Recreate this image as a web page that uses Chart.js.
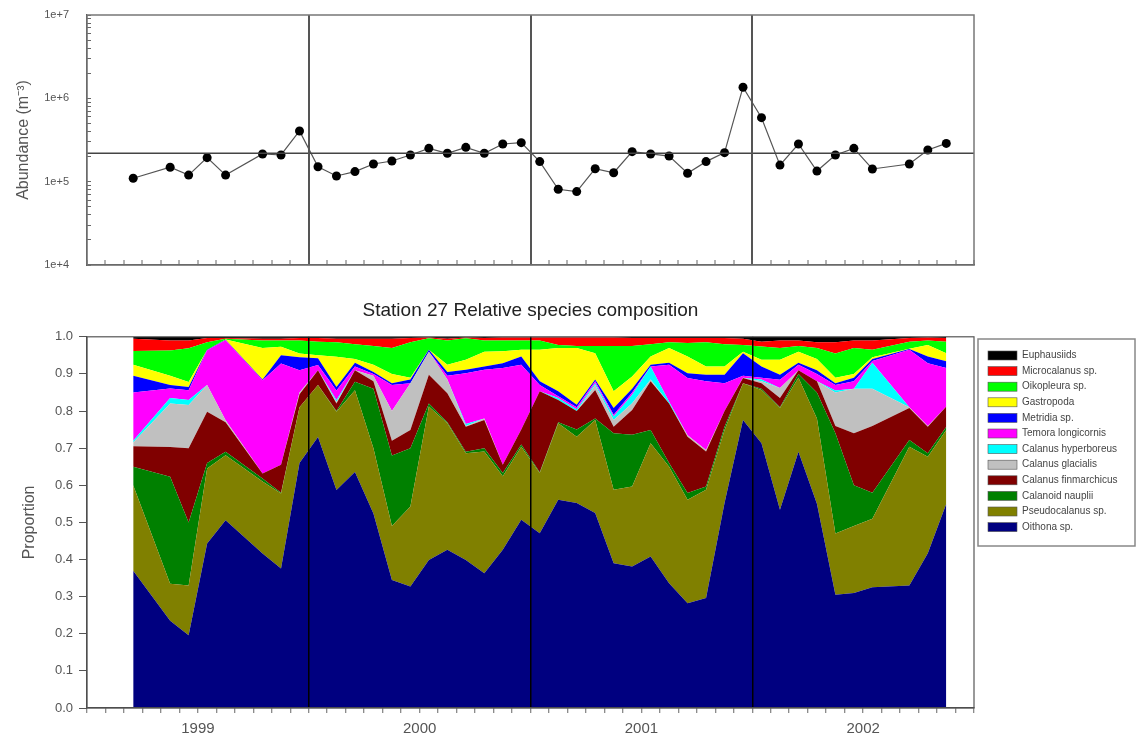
<!DOCTYPE html>
<html>
<head>
<meta charset="utf-8">
<title>Station 27</title>
<script src="https://cdn.jsdelivr.net/npm/chart.js@4.4.1/dist/chart.umd.min.js"></script>
<style>
  html, body { margin: 0; padding: 0; background: #fff; }
  #wrap { position: relative; width: 1137px; height: 742px; overflow: hidden; }
  #abundanceChart { position: absolute; left: 0; top: 0; }
  #compositionChart { position: absolute; left: 0; top: 280px; }
</style>
</head>
<body>
<div id="wrap">
  <canvas id="abundanceChart" width="1137" height="280"></canvas>
  <canvas id="compositionChart" width="1137" height="462"></canvas>
</div>
<script>
// Sampling months (one station visit per month, mid-month)
const sampleDates = [
  '1999-03', '1999-05', '1999-06', '1999-07', '1999-08', '1999-10', '1999-11', '1999-12',
  '2000-01', '2000-02', '2000-03', '2000-04', '2000-05', '2000-06', '2000-07', '2000-08', '2000-09', '2000-10', '2000-11', '2000-12',
  '2001-01', '2001-02', '2001-03', '2001-04', '2001-05', '2001-06', '2001-07', '2001-08', '2001-09', '2001-10', '2001-11', '2001-12',
  '2002-01', '2002-02', '2002-03', '2002-04', '2002-05', '2002-06', '2002-07', '2002-09', '2002-10', '2002-11'
];
const yearLabels = ['1999', '2000', '2001', '2002'];

// Total abundance (m-3)
const abundance = [
  1.10e5, 1.49e5, 1.20e5, 1.94e5, 1.20e5, 2.15e5, 2.09e5, 4.06e5,
  1.51e5, 1.17e5, 1.32e5, 1.63e5, 1.77e5, 2.09e5, 2.51e5, 2.19e5, 2.58e5, 2.19e5, 2.83e5, 2.94e5,
  1.74e5, 8.1e4, 7.6e4, 1.43e5, 1.28e5, 2.29e5, 2.15e5, 2.03e5, 1.26e5, 1.74e5, 2.23e5, 1.36e6,
  5.86e5, 1.58e5, 2.83e5, 1.34e5, 2.09e5, 2.51e5, 1.42e5, 1.63e5, 2.40e5, 2.88e5
];
const meanAbundance = 2.19e5;

// Relative composition: cumulative upper edge of each layer (bottom layer first)
const oithona = [.37, .235, .196, .443, .506, .416, .376, .66,
  .73, .587, .636, .524, .345, .327, .399, .426, .399, .363, .426, .507,
  .471, .561, .552, .525, .39, .381, .408, .336, .282, .296, .552, .776,
  .713, .534, .69, .55, .305, .31, .325, .33, .417, .55];
const pseudocalanus = [.60, .335, .33, .645, .681, .61, .578, .81,
  .87, .798, .856, .70, .49, .543, .812, .767, .686, .691, .624, .704,
  .633, .767, .731, .776, .588, .597, .713, .65, .561, .588, .749, .875,
  .857, .808, .89, .78, .47, .49, .51, .704, .677, .749];
const calanoidNauplii = [.65, .623, .50, .66, .69, .618, .58, .81,
  .87, .80, .879, .86, .68, .70, .82, .77, .69, .70, .633, .71,
  .635, .77, .75, .78, .74, .736, .749, .66, .579, .597, .758, .875,
  .86, .81, .90, .85, .74, .60, .58, .722, .686, .758];
const calanusFinmarchicus = [.705, .703, .70, .798, .77, .632, .655, .845,
  .91, .82, .91, .88, .72, .749, .898, .848, .758, .776, .655, .75,
  .853, .83, .80, .857, .758, .803, .88, .82, .731, .691, .80, .889,
  .875, .835, .91, .88, .76, .74, .76, .808, .758, .812];
const calanusGlacialis = [.715, .82, .816, .87, .775, .632, .655, .85,
  .91, .825, .91, .895, .80, .875, .96, .885, .76, .78, .655, .75,
  .853, .83, .80, .87, .776, .821, .885, .82, .735, .695, .80, .89,
  .88, .862, .91, .88, .85, .86, .86, .81, .76, .812];
const calanusHyperboreus = [.72, .835, .83, .87, .775, .632, .655, .85,
  .91, .83, .91, .895, .80, .875, .96, .885, .765, .78, .655, .75,
  .853, .835, .805, .875, .785, .844, .92, .825, .735, .695, .80, .89,
  .885, .862, .91, .88, .855, .86, .93, .81, .76, .812];
const temora = [.85, .861, .856, .964, .991, .883, .928, .91,
  .924, .855, .92, .90, .87, .875, .96, .895, .902, .911, .916, .925,
  .87, .84, .81, .88, .79, .85, .92, .925, .889, .88, .875, .895,
  .89, .884, .925, .90, .87, .88, .935, .965, .929, .916];
const metridia = [.895, .87, .865, .965, .992, .885, .95, .945,
  .942, .865, .93, .905, .875, .885, .965, .905, .911, .92, .929, .947,
  .88, .853, .817, .885, .808, .86, .925, .93, .902, .898, .898, .956,
  .92, .898, .93, .91, .875, .89, .94, .967, .947, .934];
const gastropoda = [.925, .895, .878, .965, .993, .97, .973, .955,
  .95, .946, .94, .925, .90, .89, .965, .925, .938, .96, .961, .965,
  .965, .97, .97, .956, .853, .893, .947, .97, .947, .92, .92, .96,
  .938, .938, .96, .94, .89, .90, .945, .968, .978, .956];
const oikopleura = [.962, .963, .969, .985, .995, .99, .99, .99,
  .987, .985, .98, .975, .97, .985, .996, .99, .996, .99, .99, .99,
  .99, .978, .975, .975, .975, .975, .98, .985, .983, .985, .98, .978,
  .974, .97, .975, .97, .955, .97, .965, .987, .99, .987];
const microcalanus = [.995, .99, .99, .997, .997, .995, .995, .997,
  .997, .995, .995, .995, .995, .997, .998, .995, .998, .997, .998, .998,
  .998, .998, .998, .998, .998, .997, .997, .997, .997, .997, .997, .995,
  .987, .99, .99, .985, .985, .99, .99, .997, .998, .997];
const euphausiids = [1, 1, 1, 1, 1, 1, 1, 1,
  1, 1, 1, 1, 1, 1, 1, 1, 1, 1, 1, 1,
  1, 1, 1, 1, 1, 1, 1, 1, 1, 1, 1, 1,
  1, 1, 1, 1, 1, 1, 1, 1, 1, 1];

const layers = [
  { label: 'Oithona sp.', color: '#000080', data: oithona },
  { label: 'Pseudocalanus sp.', color: '#808000', data: pseudocalanus },
  { label: 'Calanoid nauplii', color: '#008000', data: calanoidNauplii },
  { label: 'Calanus finmarchicus', color: '#800000', data: calanusFinmarchicus },
  { label: 'Calanus glacialis', color: '#c0c0c0', data: calanusGlacialis },
  { label: 'Calanus hyperboreus', color: '#00ffff', data: calanusHyperboreus },
  { label: 'Temora longicornis', color: '#ff00ff', data: temora },
  { label: 'Metridia sp.', color: '#0000ff', data: metridia },
  { label: 'Gastropoda', color: '#ffff00', data: gastropoda },
  { label: 'Oikopleura sp.', color: '#00ff00', data: oikopleura },
  { label: 'Microcalanus sp.', color: '#ff0000', data: microcalanus },
  { label: 'Euphausiids', color: '#000000', data: euphausiids }
];

// months since Jan 1999, placed mid-month
const sampleX = sampleDates.map(s => {
  const [y, m] = s.split('-').map(Number);
  return (y - 1999) * 12 + (m - 1) + 0.5;
});
const monthTicks = Array.from({ length: 49 }, (_, i) => i);
const logTicks = [];
for (let e = 4; e < 7; e++) for (let k = 1; k < 10; k++) logTicks.push(k * 10 ** e);
logTicks.push(1e7);

const isYearLine = v => v % 12 === 0 && v > 0 && v < 48;

// keep the plot area exactly where the fixed layout padding puts it
const noOverflow = s => { s.paddingTop = 0; s.paddingBottom = 0; s.paddingLeft = 0; s.paddingRight = 0; };

Chart.defaults.font.family = "'Liberation Sans', Arial, sans-serif";
Chart.defaults.color = '#555';
Chart.defaults.animation = false;

const framePlugin = {
  id: 'frame',
  afterDraw(chart, args, opts) {
    const { ctx, chartArea: a } = chart;
    ctx.save();
    ctx.strokeStyle = opts.color;
    ctx.lineWidth = opts.width;
    ctx.strokeRect(a.left, a.top, a.right - a.left, a.bottom - a.top);
    ctx.restore();
  }
};

const boxLegend = {
  id: 'boxLegend',
  afterDraw(chart, args, opts) {
    if (!opts.display) return;
    const ctx = chart.ctx;
    const items = chart.data.datasets.slice().reverse();
    ctx.save();
    ctx.strokeStyle = '#888';
    ctx.lineWidth = 1.5;
    ctx.strokeRect(opts.x, opts.y, opts.w, opts.h);
    ctx.font = "10px 'Liberation Sans', Arial, sans-serif";
    ctx.textBaseline = 'middle';
    items.forEach((ds, i) => {
      const y = opts.y + 16.5 + i * 15.6;
      ctx.fillStyle = ds.backgroundColor;
      ctx.fillRect(opts.x + 10, y - 4.5, 29, 9);
      ctx.strokeStyle = '#555';
      ctx.lineWidth = 0.6;
      ctx.strokeRect(opts.x + 10, y - 4.5, 29, 9);
      ctx.fillStyle = '#444';
      ctx.fillText(ds.label, opts.x + 44, y);
    });
    ctx.restore();
  }
};

const monthAxis = (opts) => ({
  type: 'linear', min: 0, max: 48,
  afterBuildTicks: s => { s.ticks = monthTicks.map(v => ({ value: v })); },
  afterFit: s => { s.height = opts.height; noOverflow(s); },
  grid: {
    z: 1,
    color: c => isYearLine(c.tick && c.tick.value) ? opts.lineColor : 'rgba(0,0,0,0)',
    lineWidth: opts.lineWidth,
    tickLength: opts.tickLength,
    tickColor: '#666',
    tickWidth: 1
  },
  border: { color: '#444', width: 1.2, z: 1 },
  ticks: {
    display: opts.labels,
    autoSkip: false, maxRotation: 0, padding: 7,
    color: '#555', font: { size: 15 },
    callback: v => v % 12 === 6 ? yearLabels[(v - 6) / 12] : ''
  }
});

// Top panel: total abundance
new Chart(document.getElementById('abundanceChart'), {
  type: 'line',
  data: {
    datasets: [
      {
        label: 'Mean',
        data: [{ x: 0, y: meanAbundance }, { x: 48, y: meanAbundance }],
        borderColor: '#444', borderWidth: 1.5, pointRadius: 0
      },
      {
        label: 'Abundance',
        data: sampleX.map((x, i) => ({ x, y: abundance[i] })),
        borderColor: '#555', borderWidth: 1.2,
        pointRadius: 4.5, pointBackgroundColor: '#000', pointBorderColor: '#000', pointBorderWidth: 0
      }
    ]
  },
  options: {
    responsive: false,
    layout: { padding: { top: 15, right: 163, left: 0, bottom: 0 } },
    plugins: {
      legend: { display: false },
      tooltip: { enabled: false },
      frame: { color: '#777', width: 1.5 },
      boxLegend: { display: false }
    },
    scales: {
      x: monthAxis({ height: 15, labels: false, lineColor: '#555', lineWidth: 2, tickLength: -5 }),
      y: {
        type: 'logarithmic', min: 1e4, max: 1e7,
        afterBuildTicks: s => { s.ticks = logTicks.map(v => ({ value: v })); },
        afterFit: s => { s.width = 87; noOverflow(s); },
        grid: { drawOnChartArea: false, tickLength: -4, tickColor: '#666' },
        border: { color: '#444', width: 1.2 },
        ticks: {
          autoSkip: false, padding: 22, color: '#555', font: { size: 11 },
          callback: v => {
            const e = Math.round(Math.log10(v));
            return Math.abs(v - 10 ** e) < 1e-6 * v ? '1e+' + e : '';
          }
        },
        title: {
          display: true, text: 'Abundance (m\u207B\u00B3)', color: '#555',
          font: { size: 16 }, padding: { top: 14, bottom: 0 }
        }
      }
    }
  },
  plugins: [framePlugin, boxLegend]
});

// Bottom panel: relative species composition
new Chart(document.getElementById('compositionChart'), {
  type: 'line',
  data: {
    datasets: layers.map((l, i) => ({
      label: l.label,
      data: sampleX.map((x, j) => ({ x, y: l.data[j] })),
      backgroundColor: l.color,
      borderColor: l.color,
      borderWidth: 0,
      pointRadius: 0,
      fill: i === 0 ? 'origin' : '-1'
    }))
  },
  options: {
    responsive: false,
    layout: { padding: { top: 0, right: 163, left: 0, bottom: 0 } },
    plugins: {
      legend: { display: false },
      tooltip: { enabled: false },
      title: {
        display: true, fullSize: false,
        text: 'Station 27 Relative species composition',
        color: '#222', font: { size: 19, weight: 'normal' },
        padding: { top: 19, bottom: 15 }
      },
      frame: { color: '#555', width: 1.2 },
      boxLegend: { display: true, x: 978, y: 59, w: 157, h: 207 }
    },
    scales: {
      x: monthAxis({ height: 34, labels: true, lineColor: '#000', lineWidth: 1.5, tickLength: 5 }),
      y: {
        min: 0, max: 1,
        afterFit: s => { s.width = 87; noOverflow(s); },
        grid: { drawOnChartArea: false, tickLength: 8, tickColor: '#555' },
        border: { color: '#444', width: 1.2 },
        ticks: { stepSize: 0.1, padding: 6, color: '#555', font: { size: 13 }, callback: v => v.toFixed(1) },
        title: {
          display: true, text: 'Proportion', color: '#555',
          font: { size: 16 }, padding: { top: 20, bottom: 0 }
        }
      }
    }
  },
  plugins: [framePlugin, boxLegend]
});
</script>
</body>
</html>
